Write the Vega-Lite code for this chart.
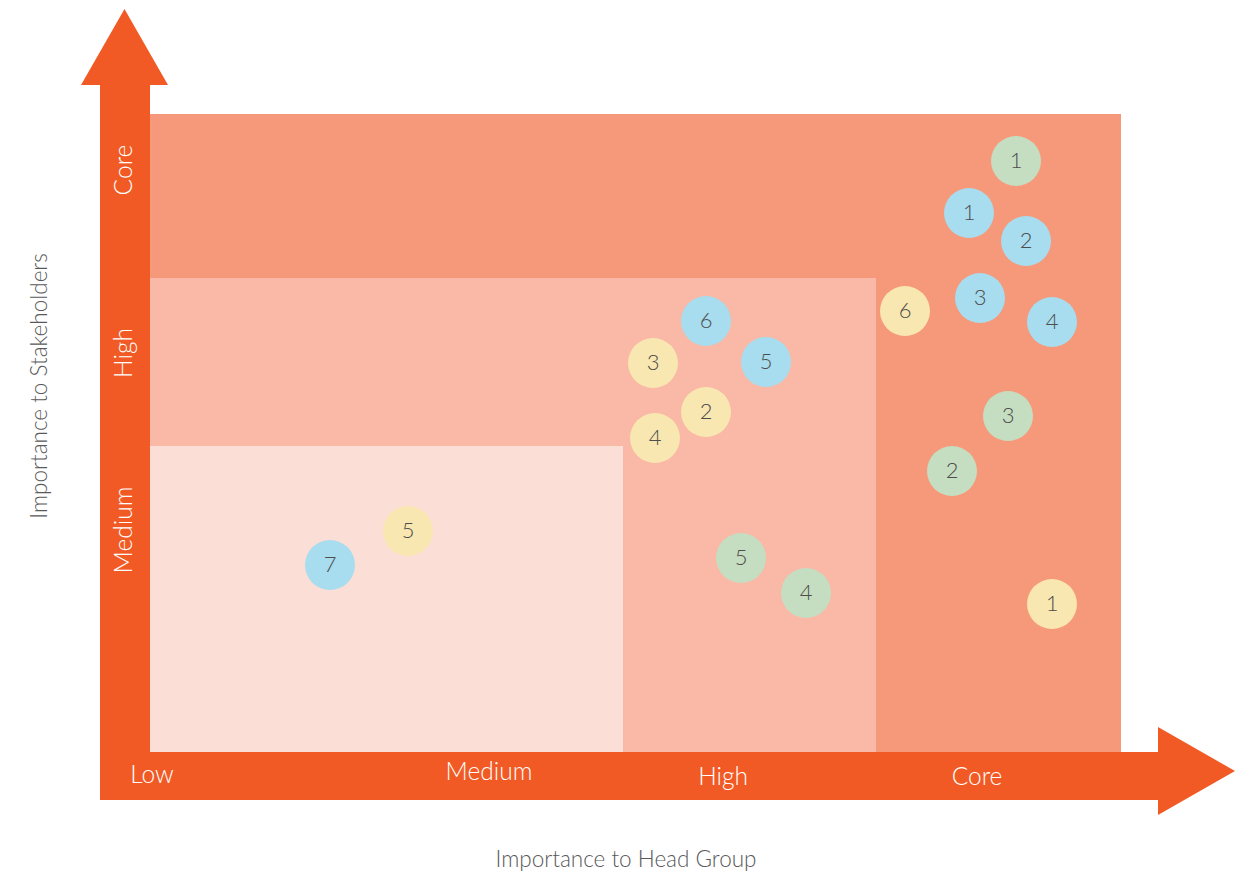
{
  "$schema": "https://vega.github.io/schema/vega-lite/v6.json",
  "width": 1248,
  "height": 874,
  "autosize": "none",
  "padding": 0,
  "background": "white",
  "config": {"view": {"stroke": null}, "axis": {"disable": true}, "font": "Lato"},
  "datasets": {
    "zones": [
      {"zone": "Core", "x0": 0.5, "x1": 10.21, "y0": 0.48, "y1": 6.86},
      {"zone": "High", "x0": 0.5, "x1": 7.76, "y0": 0.48, "y1": 5.22},
      {"zone": "Medium", "x0": 0.5, "x1": 5.23, "y0": 0.48, "y1": 3.54}
    ],
    "shafts": [
      {"part": "vertical", "x0": 0, "x1": 0.5, "y0": 0, "y1": 7.16},
      {"part": "horizontal", "x0": 0, "x1": 10.6, "y0": 0, "y1": 0.48}
    ],
    "headUp": [
      {"y": 7.15, "xa": -0.19, "xb": 0.68},
      {"y": 7.91, "xa": 0.245, "xb": 0.245}
    ],
    "headRight": [
      {"x": 10.58, "ya": -0.15, "yb": 0.73},
      {"x": 11.35, "ya": 0.29, "yb": 0.29}
    ],
    "topics": [
      {"group": "Green", "id": "1", "head": 9.16, "stake": 6.39},
      {"group": "Green", "id": "3", "head": 9.08, "stake": 3.84},
      {"group": "Green", "id": "2", "head": 8.52, "stake": 3.29},
      {"group": "Green", "id": "5", "head": 6.41, "stake": 2.42},
      {"group": "Green", "id": "4", "head": 7.06, "stake": 2.07},
      {"group": "Blue", "id": "1", "head": 8.69, "stake": 5.87},
      {"group": "Blue", "id": "2", "head": 9.26, "stake": 5.59},
      {"group": "Blue", "id": "3", "head": 8.80, "stake": 5.02},
      {"group": "Blue", "id": "4", "head": 9.52, "stake": 4.78},
      {"group": "Blue", "id": "6", "head": 6.06, "stake": 4.79},
      {"group": "Blue", "id": "5", "head": 6.66, "stake": 4.38},
      {"group": "Blue", "id": "7", "head": 2.30, "stake": 2.35},
      {"group": "Yellow", "id": "6", "head": 8.05, "stake": 4.89},
      {"group": "Yellow", "id": "3", "head": 5.53, "stake": 4.37},
      {"group": "Yellow", "id": "2", "head": 6.06, "stake": 3.88},
      {"group": "Yellow", "id": "4", "head": 5.55, "stake": 3.62},
      {"group": "Yellow", "id": "5", "head": 3.08, "stake": 2.69},
      {"group": "Yellow", "id": "1", "head": 9.52, "stake": 1.96}
    ],
    "xLabels": [
      {"label": "Low", "x": 0.52, "y": 0.24},
      {"label": "Medium", "x": 3.89, "y": 0.27},
      {"label": "High", "x": 6.23, "y": 0.22},
      {"label": "Core", "x": 8.77, "y": 0.22}
    ],
    "yLabels": [
      {"label": "Core", "x": 0.25, "y": 6.30},
      {"label": "High", "x": 0.25, "y": 4.47},
      {"label": "Medium", "x": 0.25, "y": 2.70}
    ]
  },
  "layer": [
    {
      "data": {"name": "zones"},
      "mark": {"type": "rect"},
      "encoding": {
        "x": {"field": "x0", "type": "quantitative", "scale": {"domain": [-1, 11.48], "nice": false, "zero": false}},
        "x2": {"field": "x1"},
        "y": {"field": "y0", "type": "quantitative", "scale": {"domain": [-0.74, 8.0], "nice": false, "zero": false}},
        "y2": {"field": "y1"},
        "color": {"field": "zone", "type": "nominal", "legend": null,
          "scale": {"domain": ["Core", "High", "Medium"], "range": ["#F6997A", "#F9B9A6", "#FBDED5"]}}
      }
    },
    {
      "data": {"name": "shafts"},
      "mark": {"type": "rect", "color": "#F15A24"},
      "encoding": {
        "x": {"field": "x0", "type": "quantitative"},
        "x2": {"field": "x1"},
        "y": {"field": "y0", "type": "quantitative"},
        "y2": {"field": "y1"}
      }
    },
    {
      "data": {"name": "headUp"},
      "mark": {"type": "area", "orient": "horizontal", "color": "#F15A24", "opacity": 1},
      "encoding": {
        "y": {"field": "y", "type": "quantitative"},
        "x": {"field": "xa", "type": "quantitative"},
        "x2": {"field": "xb"}
      }
    },
    {
      "data": {"name": "headRight"},
      "mark": {"type": "area", "orient": "vertical", "color": "#F15A24", "opacity": 1},
      "encoding": {
        "x": {"field": "x", "type": "quantitative"},
        "y": {"field": "ya", "type": "quantitative"},
        "y2": {"field": "yb"}
      }
    },
    {
      "data": {"name": "topics"},
      "mark": {"type": "point", "filled": true, "opacity": 1, "size": 2500, "shape": "circle"},
      "encoding": {
        "x": {"field": "head", "type": "quantitative"},
        "y": {"field": "stake", "type": "quantitative"},
        "fill": {"field": "group", "type": "nominal", "legend": null,
          "scale": {"domain": ["Green", "Blue", "Yellow"], "range": ["#C5DEC1", "#A8DCEF", "#F8E7B0"]}}
      }
    },
    {
      "data": {"name": "topics"},
      "mark": {"type": "text", "fontSize": 22, "fontWeight": 300, "color": "#4D4D4D", "baseline": "middle", "align": "center"},
      "encoding": {
        "x": {"field": "head", "type": "quantitative"},
        "y": {"field": "stake", "type": "quantitative"},
        "text": {"field": "id"}
      }
    },
    {
      "data": {"name": "xLabels"},
      "mark": {"type": "text", "fontSize": 24.5, "fontWeight": 300, "color": "white", "baseline": "middle", "align": "center"},
      "encoding": {
        "x": {"field": "x", "type": "quantitative"},
        "y": {"field": "y", "type": "quantitative"},
        "text": {"field": "label"}
      }
    },
    {
      "data": {"name": "yLabels"},
      "mark": {"type": "text", "fontSize": 24.5, "fontWeight": 300, "color": "white", "baseline": "middle", "align": "center", "angle": 270},
      "encoding": {
        "x": {"field": "x", "type": "quantitative"},
        "y": {"field": "y", "type": "quantitative"},
        "text": {"field": "label"}
      }
    },
    {
      "data": {"values": [{"label": "Importance to Stakeholders", "x": -0.6, "y": 4.14}]},
      "mark": {"type": "text", "fontSize": 22.5, "fontWeight": 300, "color": "#595959", "baseline": "middle", "align": "center", "angle": 270},
      "encoding": {
        "x": {"field": "x", "type": "quantitative"},
        "y": {"field": "y", "type": "quantitative"},
        "text": {"field": "label"}
      }
    },
    {
      "data": {"values": [{"label": "Importance to Head Group", "x": 5.26, "y": -0.60}]},
      "mark": {"type": "text", "fontSize": 22.5, "fontWeight": 300, "color": "#595959", "baseline": "middle", "align": "center"},
      "encoding": {
        "x": {"field": "x", "type": "quantitative"},
        "y": {"field": "y", "type": "quantitative"},
        "text": {"field": "label"}
      }
    }
  ]
}
